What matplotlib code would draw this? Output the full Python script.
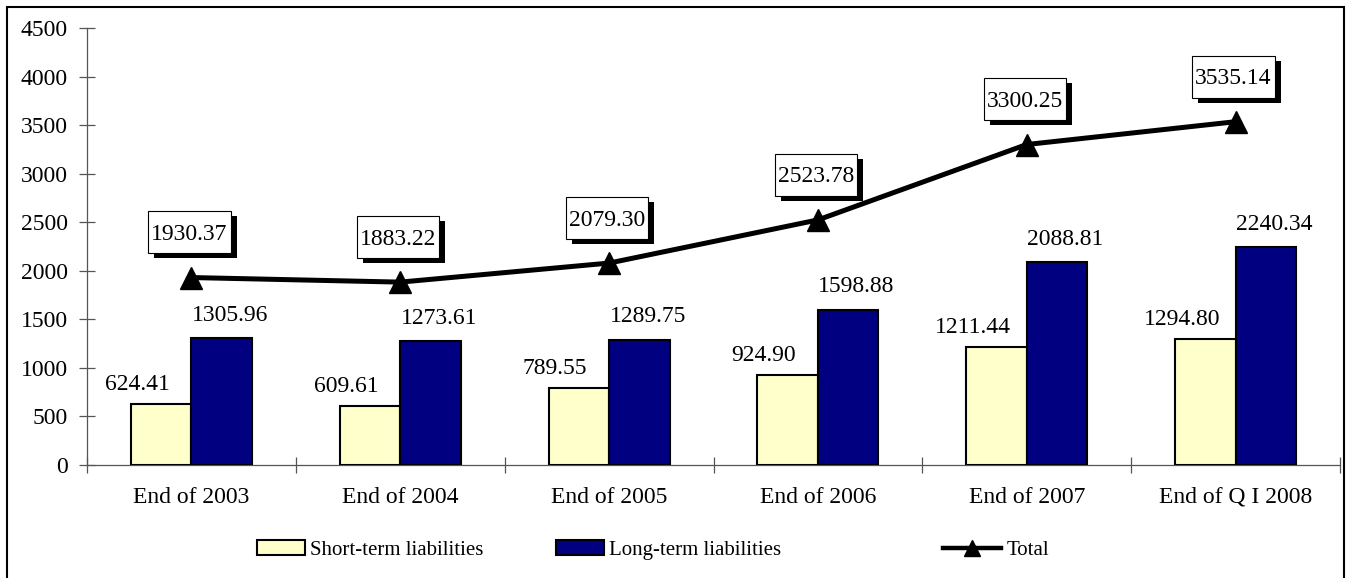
import matplotlib
matplotlib.use("Agg")
import matplotlib.pyplot as plt
from matplotlib.patches import Rectangle
from matplotlib.lines import Line2D
from matplotlib.transforms import IdentityTransform
import numpy as np

categories = ["End of 2003", "End of 2004", "End of 2005", "End of 2006", "End of 2007", "End of Q I 2008"]
short_term = [624.41, 609.61, 789.55, 924.90, 1211.44, 1294.80]
long_term = [1305.96, 1273.61, 1289.75, 1598.88, 2088.81, 2240.34]
total = [1930.37, 1883.22, 2079.30, 2523.78, 3300.25, 3535.14]
yticks = list(range(0, 4501, 500))

plt.rcParams['font.family'] = ['Liberation Serif', 'DejaVu Serif']
FS = 17

W, H = 1346, 578
fig = plt.figure(figsize=(W / 100, H / 100), dpi=100)
ax = fig.add_axes([87 / W, 1 - 465 / H, (1340 - 87) / W, (465 - 28) / H])

x = np.arange(len(categories))
bw = 0.29
b1 = ax.bar(x - bw / 2, short_term, bw, color='#FFFFCC', edgecolor='black', linewidth=1.5, zorder=3,
            label='Short-term liabilities')
b2 = ax.bar(x + bw / 2, long_term, bw, color='#000080', edgecolor='black', linewidth=1.5, zorder=3,
            label='Long-term liabilities')
ln, = ax.plot(x, total, color='black', linewidth=3.6, marker='^', markersize=15.5, zorder=5, label='Total')

ax.set_xlim(-0.5, len(categories) - 0.5)
ax.set_ylim(0, 4500)

# bar labels
for xi, v in zip(x, short_term):
    ax.annotate(f"{v:.2f}", (xi - bw / 2, v), xytext=(-17, 14), textcoords='offset points',
                ha='center', va='center', fontsize=FS)
for xi, v in zip(x, long_term):
    ax.annotate(f"{v:.2f}", (xi + bw / 2, v), xytext=(6, 16.5), textcoords='offset points',
                ha='center', va='center', fontsize=FS)
# total labels
tot_texts = []
for xi, v in zip(x, total):
    t = ax.annotate(f"{v:.2f}", (xi, v), xytext=(-1.5, 31), textcoords='offset points',
                    ha='center', va='center', fontsize=FS, zorder=7)
    tot_texts.append(t)

# axes styling
for s in ['top', 'right']:
    ax.spines[s].set_visible(False)
for s in ['left', 'bottom']:
    ax.spines[s].set_color('#555555')
    ax.spines[s].set_linewidth(0.9)

ax.set_yticks(yticks)
ax.set_yticklabels([str(v) for v in yticks], fontsize=FS)
ax.tick_params(axis='y', direction='inout', length=11.5, width=0.9, color='#555555', pad=8)

ax.set_xticks(np.arange(-0.5, len(categories), 1.0))
ax.set_xticklabels([])
ax.set_xticks(x, minor=True)
ax.set_xticklabels(categories, minor=True, fontsize=FS)
ax.tick_params(axis='x', which='major', direction='inout', length=11, width=0.9, color='#555555')
ax.tick_params(axis='x', which='minor', length=0, pad=15.5)

# legends (three separately placed entries)
ly = 1 - 550 / H
LFS = 15
common = dict(frameon=False, loc='center left', borderpad=0, borderaxespad=0, fontsize=LFS,
              handletextpad=0.25, handleheight=0.72)
tot_proxy = Line2D([], [], color='black', linewidth=3.2, marker='^', markersize=12)
fig.legend(handles=[b1], labels=['Short-term liabilities'], bbox_to_anchor=(257 / W, ly), handlelength=2.3, **common)
fig.legend(handles=[b2], labels=['Long-term liabilities'], bbox_to_anchor=(556 / W, ly), handlelength=2.3, **common)
fig.legend(handles=[tot_proxy], labels=['Total'], bbox_to_anchor=(943 / W, ly), handlelength=2.8, **common)

# outer frame
fig.patches.append(Rectangle((7 / W, -0.1), (1344 - 7) / W, 1 - 7 / H + 0.1, transform=fig.transFigure,
                             fill=False, edgecolor='black', linewidth=1.5, clip_on=False))

# boxes with shadow behind the total labels (sized from the rendered text)
fig.canvas.draw()
renderer = fig.canvas.get_renderer()
for t in tot_texts:
    bb = t.get_window_extent(renderer)
    padx, boxh = 3, 42
    x0 = bb.x0 - padx
    w = bb.width + 2 * padx
    yc = (bb.y0 + bb.y1) / 2 + 2
    y0 = yc - boxh / 2
    shadow = Rectangle((x0 + 6, y0 - 5), w, boxh, transform=IdentityTransform(), facecolor='black',
                       edgecolor='none', zorder=6, clip_on=False)
    box = Rectangle((x0, y0), w, boxh, transform=IdentityTransform(), facecolor='white',
                    edgecolor='black', linewidth=0.8, zorder=6.5, clip_on=False)
    ax.add_artist(shadow)
    ax.add_artist(box)

fig.savefig("out.png", dpi=100)
